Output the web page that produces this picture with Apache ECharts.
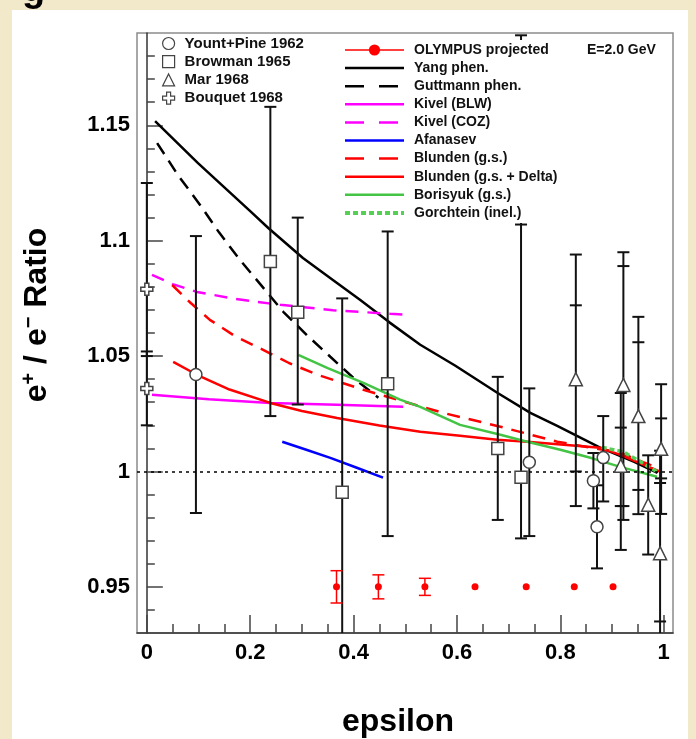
<!DOCTYPE html>
<html>
<head>
<meta charset="utf-8">
<script src="https://cdn.jsdelivr.net/npm/echarts@6.0.0/dist/echarts.min.js"></script>
<style>
  html, body { margin: 0; padding: 0; background: #f2e9cb; }
  #chart { width: 696px; height: 739px; }
</style>
</head>
<body>
<div id="chart"></div>
<script>
// axis ticks
const xMajorTicks = [0, 0.2, 0.4, 0.6, 0.8, 1];
const xMinorTicks = [0.05, 0.1, 0.15, 0.25, 0.3, 0.35, 0.45, 0.5, 0.55, 0.65, 0.7, 0.75, 0.85, 0.9, 0.95];
const yMajorTicks = [0.95, 1, 1.05, 1.1, 1.15];
const yMinorTicks = [0.94, 0.96, 0.97, 0.98, 0.99, 1.01, 1.02, 1.03, 1.04, 1.06, 1.07, 1.08, 1.09,
  1.11, 1.12, 1.13, 1.14, 1.16, 1.17, 1.18];

// data points: [eps, ratio, low, high, innerLow, innerHigh]
const yountPine = [
  [0.095, 1.042, 0.982, 1.102, null, null],
  [0.740, 1.004, 0.972, 1.036, null, null],
  [0.864, 0.996, 0.984, 1.008, null, null],
  [0.871, 0.976, 0.958, 0.994, null, null],
  [0.883, 1.006, 0.987, 1.024, null, null]
];
const browman = [
  [0.239, 1.091, 1.024, 1.158, null, null],
  [0.292, 1.069, 1.029, 1.110, null, null],
  [0.378, 0.991, 0.907, 1.075, null, null],
  [0.466, 1.038, 0.972, 1.104, null, null],
  [0.679, 1.010, 0.979, 1.041, null, null],
  [0.724, 0.9975, 0.971, 1.189, null, 1.107]
];
const mar = [
  [0.830, 1.040, 0.985, 1.094, 1.000, 1.072],
  [0.922, 1.0375, 0.979, 1.095, 0.985, 1.089],
  [0.917, 1.0025, 0.966, 1.034, 0.985, 1.019],
  [0.951, 1.024, 0.9815, 1.067, 0.992, 1.056],
  [0.970, 0.9856, 0.964, 1.007, null, null],
  [0.995, 1.0098, 0.9816, 1.0378, 0.997, 1.023],
  [0.993, 0.9646, 0.900, 1.009, 0.935, 0.995]
];
const bouquet = [
  [0.0, 1.079, 1.050, 1.125, null, null],
  [0.0, 1.036, 1.020, 1.052, null, null]
];

// OLYMPUS projection
const olympusEps = [0.367, 0.448, 0.538, 0.635, 0.734, 0.827, 0.902];
const olympusRatio = [0.95, 0.95, 0.95, 0.95, 0.95, 0.95, 0.95];
const olympusErr = [0.007, 0.0052, 0.0037, 0.0012, 0.001, 0.0009, 0.0008];

// theory curves: [eps, ratio]
const yang = [[0.016, 1.1518], [0.099, 1.1336], [0.2, 1.1128], [0.235, 1.1055], [0.302, 1.0925],
  [0.36, 1.083], [0.413, 1.0743], [0.47, 1.0645], [0.529, 1.0549], [0.597, 1.0458], [0.678, 1.0341],
  [0.742, 1.0254], [0.794, 1.0198], [0.877, 1.0103], [0.943, 1.0042], [0.988, 0.9994]];
const guttmann = [[0.02, 1.1423], [0.06, 1.1285], [0.103, 1.1155], [0.14, 1.1035], [0.18, 1.0917],
  [0.219, 1.0813], [0.264, 1.0692], [0.31, 1.059], [0.355, 1.0497], [0.4, 1.0405], [0.448, 1.0319]];
const kivelBLW = [[0.01, 1.0332], [0.12, 1.0313], [0.239, 1.0297], [0.368, 1.0289], [0.496, 1.028]];
const kivelCOZ = [[0.01, 1.0852], [0.05, 1.0812], [0.097, 1.0778], [0.17, 1.0748], [0.258, 1.0722],
  [0.36, 1.0699], [0.471, 1.0683], [0.504, 1.0679]];
const afanasev = [[0.262, 1.0129], [0.31, 1.0093], [0.355, 1.0059], [0.405, 1.0017], [0.457, 0.9973]];
const blundenGS = [[0.049, 1.0808], [0.085, 1.073], [0.122, 1.0657], [0.17, 1.0587], [0.225, 1.0527],
  [0.275, 1.047], [0.33, 1.0419], [0.419, 1.0354], [0.5, 1.0301], [0.573, 1.0254], [0.684, 1.0194],
  [0.794, 1.0129], [0.916, 1.0081], [0.987, 1.0016]];
const blundenDelta = [[0.051, 1.0475], [0.097, 1.0419], [0.16, 1.0355], [0.239, 1.0297], [0.3, 1.0262],
  [0.368, 1.0232], [0.45, 1.0199], [0.529, 1.0172], [0.606, 1.0155], [0.678, 1.0137], [0.736, 1.0129],
  [0.877, 1.0103], [0.916, 1.0072], [0.993, 0.9999]];
const borisyuk = [[0.293, 1.0505], [0.35, 1.0448], [0.419, 1.0384], [0.49, 1.0311], [0.529, 1.028],
  [0.606, 1.0202], [0.684, 1.0159], [0.736, 1.0129], [0.8, 1.0094], [0.86, 1.0058], [0.916, 1.002],
  [0.987, 0.9977]];
const gorchtein = [[0.88, 1.0105], [0.922, 1.0085], [0.955, 1.0042], [0.987, 0.9999]];

const FONT = "'Liberation Sans', Arial, sans-serif";
const chart = echarts.init(document.getElementById('chart'), null, { renderer: 'canvas' });

const errorBars = (color, lw, cap) => (params, api) => {
  const cs = params.coordSys;
  const top = cs.y, bottom = cs.y + cs.height;
  const x = api.coord([api.value(0), 1])[0];
  const toY = v => api.coord([api.value(0), v])[1];
  const lo = toY(api.value(1)), hi = toY(api.value(2));
  // bars hidden behind the marker are not drawn
  if (lo - hi < 8) return { type: 'group', children: [] };
  const children = [{
    type: 'line',
    shape: { x1: x, y1: Math.min(lo, bottom), x2: x, y2: Math.max(hi, top) },
    style: { stroke: color, lineWidth: lw }
  }];
  [1, 2, 3, 4].forEach(d => {
    const v = api.value(d);
    if (v == null || isNaN(v)) return;
    const y = toY(v);
    if (y < top - 1 || y > bottom + 1) return;
    children.push({
      type: 'line',
      shape: { x1: x - cap, y1: y, x2: x + cap, y2: y },
      style: { stroke: color, lineWidth: lw }
    });
  });
  return { type: 'group', children };
};

const barSeries = (name, rows, color, lw) => ({
  name: name,
  type: 'custom',
  z: 4,
  renderItem: errorBars(color, lw, 6),
  encode: { x: 0, y: [1, 2] },
  data: rows.map(r => [r[0], r[2], r[3], r[4], r[5]])
});

const markerSeries = (name, rows, symbol, size) => ({
  name: name,
  type: 'scatter',
  z: 5,
  symbol: symbol,
  symbolSize: size,
  itemStyle: { color: '#fff', borderColor: '#444', borderWidth: 1.5, opacity: 1 },
  data: rows.map(r => [r[0], r[1]])
});

const curve = (name, data, color, type, width) => ({
  name: name,
  type: 'line',
  z: 3,
  symbol: 'none',
  smooth: false,
  lineStyle: { color: color, type: type, width: width },
  itemStyle: { color: color },
  data: data
});

const crossPath = 'path://M-1,-3L1,-3L1,-1L3,-1L3,1L1,1L1,3L-1,3L-1,1L-3,1L-3,-1L-1,-1Z';

const olympusPoints = olympusEps.map((e, i) => [e, olympusRatio[i]]);
const olympusBars = olympusEps.map((e, i) => [e, olympusRatio[i], olympusRatio[i] - olympusErr[i],
  olympusRatio[i] + olympusErr[i], null, null]);

const yangSeries = curve('Yang phen.', yang, '#000', 'solid', 2.5);
yangSeries.markLine = {
  silent: true,
  symbol: ['none', 'none'],
  label: { show: false },
  lineStyle: { color: '#000', type: [3, 4], width: 1.5 },
  data: [{ yAxis: 1 }]
};

const labelStyle = { fontFamily: FONT, fontSize: 22, fontWeight: 'bold', color: '#000' };
const legendDash = [19, 15];

const option = {
  animation: false,
  backgroundColor: '#f2e9cb',
  grid: {
    left: 137, right: 23, top: 33, bottom: 106,
    show: true, borderColor: '#8c8c8c', borderWidth: 1.5, backgroundColor: 'transparent'
  },
  xAxis: [
    {
      type: 'value', min: -0.019, max: 1.018,
      axisLine: { show: true, lineStyle: { color: '#333', width: 1.5 } },
      axisTick: { show: true, inside: true, length: 18, customValues: xMajorTicks,
        lineStyle: { color: '#444', width: 1.5 } },
      axisLabel: Object.assign({ customValues: xMajorTicks, margin: 9,
        formatter: v => String(Math.round(v * 10) / 10) }, labelStyle),
      splitLine: { show: false }
    },
    {
      type: 'value', min: -0.019, max: 1.018, position: 'bottom',
      axisLine: { show: false },
      axisTick: { show: true, inside: true, length: 9, customValues: xMinorTicks,
        lineStyle: { color: '#444', width: 1.5 } },
      axisLabel: { show: false },
      splitLine: { show: false }
    }
  ],
  yAxis: [
    {
      type: 'value', min: 0.93, max: 1.19,
      axisLine: { show: true, lineStyle: { color: '#333', width: 1.5 } },
      axisTick: { show: true, inside: true, length: 16, customValues: yMajorTicks,
        lineStyle: { color: '#444', width: 1.5 } },
      axisLabel: Object.assign({ customValues: yMajorTicks, margin: 7,
        formatter: v => String(Math.round(v * 100) / 100) }, labelStyle),
      splitLine: { show: false }
    },
    {
      type: 'value', min: 0.93, max: 1.19, position: 'left',
      axisLine: { show: false },
      axisTick: { show: true, inside: true, length: 8, customValues: yMinorTicks,
        lineStyle: { color: '#444', width: 1.5 } },
      axisLabel: { show: false },
      splitLine: { show: false }
    }
  ],
  legend: [
    {
      orient: 'vertical', left: 162, top: 36, padding: 0, z: 10,
      itemWidth: 12, itemHeight: 12, itemGap: 3.2,
      selectedMode: false,
      textStyle: { fontFamily: FONT, fontSize: 15, fontWeight: 'bold', color: '#111', padding: [0, 0, 0, 5] },
      data: [
        { name: 'Yount+Pine 1962', itemStyle: { color: '#fff', borderColor: '#444', borderWidth: 1.2 } },
        { name: 'Browman 1965', itemStyle: { color: '#fff', borderColor: '#444', borderWidth: 1.2 } },
        { name: 'Mar 1968', itemStyle: { color: '#fff', borderColor: '#444', borderWidth: 1.2 } },
        { name: 'Bouquet 1968', itemStyle: { color: '#fff', borderColor: '#444', borderWidth: 1.2 } }
      ]
    },
    {
      orient: 'vertical', left: 339, top: 40, padding: [3, 6, 3, 4], z: 10,
      backgroundColor: '#fff',
      itemWidth: 59, itemHeight: 14, itemGap: 4.1,
      selectedMode: false,
      itemStyle: { opacity: 0 },
      lineStyle: { width: 2.5 },
      textStyle: { fontFamily: FONT, fontSize: 14, fontWeight: 'bold', color: '#111', padding: [0, 0, 0, 5] },
      data: [
        { name: 'OLYMPUS projected', itemStyle: { opacity: 1, color: '#f00' },
          lineStyle: { color: '#f00', width: 1.5, opacity: 1, type: 'solid' } },
        'Yang phen.',
        { name: 'Guttmann phen.', lineStyle: { type: legendDash } },
        'Kivel (BLW)',
        { name: 'Kivel (COZ)', lineStyle: { type: legendDash } },
        'Afanasev',
        { name: 'Blunden (g.s.)', lineStyle: { type: legendDash } },
        'Blunden (g.s. + Delta)', 'Borisyuk (g.s.)',
        { name: 'Gorchtein (inel.)', lineStyle: { width: 4, type: [5, 3] } }
      ]
    }
  ],
  graphic: [
    { type: 'rect', z: -10, shape: { x: 12, y: 10, width: 676, height: 740 }, style: { fill: '#fff' } },
    { type: 'text', z: 10, x: 22, y: 10,
      style: { text: 'g', font: "bold 38px " + FONT, fill: '#000', textAlign: 'left', textVerticalAlign: 'bottom' } },
    { type: 'text', z: 10, x: 587, y: 50,
      style: { text: 'E=2.0 GeV', font: "bold 14px " + FONT, fill: '#111', textAlign: 'left', textVerticalAlign: 'middle' } },
    { type: 'text', z: 10, x: 398, y: 722,
      style: { text: 'epsilon', font: "bold 32px " + FONT, fill: '#000', textAlign: 'center', textVerticalAlign: 'middle' } },
    { type: 'text', z: 10, x: 36, y: 315, rotation: Math.PI / 2,
      style: {
        text: '{b|e}{s|+}{b| / e}{s|\u2212}{b| Ratio}',
        textAlign: 'center', textVerticalAlign: 'middle',
        rich: {
          b: { fontFamily: FONT, fontSize: 32, fontWeight: 'bold', lineHeight: 34, verticalAlign: 'bottom', fill: '#000' },
          s: { fontFamily: FONT, fontSize: 20, fontWeight: 'bold', lineHeight: 20, verticalAlign: 'top', fill: '#000' }
        }
      } }
  ],
  series: [
    yangSeries,
    curve('Guttmann phen.', guttmann, '#000', [13, 8], 2.5),
    curve('Kivel (BLW)', kivelBLW, '#ff00ff', 'solid', 2.5),
    curve('Kivel (COZ)', kivelCOZ, '#ff00ff', [13, 9], 2.5),
    curve('Afanasev', afanasev, '#0000ff', 'solid', 2.5),
    curve('Blunden (g.s.)', blundenGS, '#ff0000', [13, 9], 2.5),
    curve('Blunden (g.s. + Delta)', blundenDelta, '#ff0000', 'solid', 2.5),
    curve('Borisyuk (g.s.)', borisyuk, '#44c444', 'solid', 2.5),
    curve('Gorchtein (inel.)', gorchtein, '#55d055', [5, 3], 3.5),
    barSeries('bars-yount', yountPine, '#111', 2),
    barSeries('bars-browman', browman, '#111', 2),
    barSeries('bars-mar', mar, '#111', 2),
    barSeries('bars-bouquet', bouquet, '#111', 2),
    barSeries('bars-olympus', olympusBars, '#f00', 1.5),
    markerSeries('Yount+Pine 1962', yountPine, 'circle', 12),
    markerSeries('Browman 1965', browman, 'rect', 12),
    markerSeries('Mar 1968', mar, 'triangle', 13),
    markerSeries('Bouquet 1968', bouquet, crossPath, 12),
    {
      name: 'OLYMPUS projected',
      type: 'line',
      z: 6,
      symbol: 'circle',
      symbolSize: 7,
      showSymbol: true,
      itemStyle: { color: '#f00' },
      lineStyle: { color: '#f00', width: 0, opacity: 0 },
      data: olympusPoints
    }
  ]
};

chart.setOption(option);
</script>
</body>
</html>
